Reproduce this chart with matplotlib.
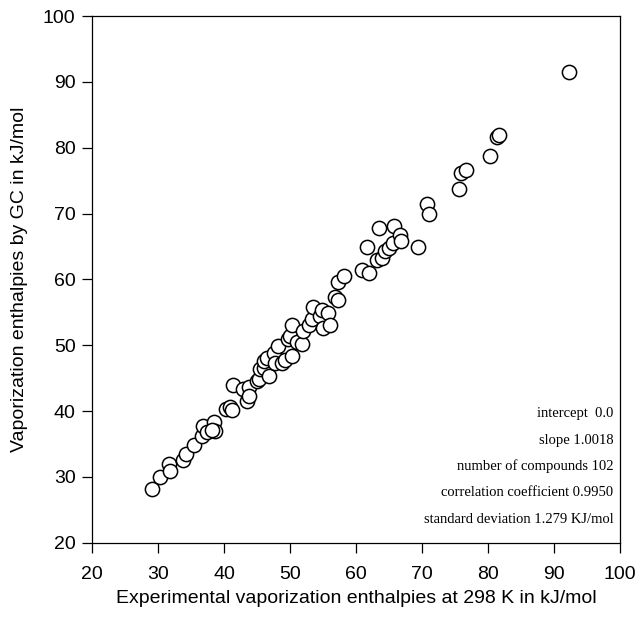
import numpy as np
import matplotlib
matplotlib.use("Agg")
from matplotlib import pyplot as plt

# experimental vs group-contribution vaporization enthalpies (kJ/mol)
exp_h = [29.0, 30.3, 31.7, 31.8, 33.8, 34.2, 35.4, 36.6, 36.8, 37.4,
         38.4, 38.6, 38.1, 40.3, 40.9, 41.2, 41.4, 42.8, 43.7, 43.4,
         43.7, 45.0, 45.3, 45.4, 46.1, 46.8, 46.0, 46.5, 47.5, 47.7,
         48.1, 48.7, 49.2, 49.7, 50.0, 50.3, 50.3, 51.0, 51.8, 52.0,
         52.8, 53.3, 53.5, 54.5, 54.8, 55.0, 55.8, 56.1, 56.8, 57.3,
         57.3, 58.2, 60.9, 61.9, 61.6, 63.1, 63.9, 63.5, 64.4, 64.9,
         65.6, 65.8, 66.7, 66.8, 69.3, 70.8, 71.0, 75.6, 75.9, 76.7,
         80.3, 81.4, 81.6, 92.3]
gc_h = [28.1, 30.0, 32.0, 30.9, 32.5, 33.5, 34.9, 36.2, 37.7, 36.9,
        38.4, 37.0, 37.2, 40.3, 40.6, 40.2, 43.9, 43.3, 43.6, 41.6,
        42.3, 44.5, 44.9, 46.4, 46.5, 45.3, 47.6, 48.1, 48.9, 47.3,
        49.9, 47.3, 47.8, 51.0, 51.4, 48.4, 53.1, 50.5, 50.2, 52.1,
        53.1, 54.0, 55.8, 54.4, 55.4, 52.7, 54.9, 53.1, 57.4, 56.9,
        59.6, 60.5, 61.4, 61.0, 64.9, 63.0, 63.2, 67.8, 64.3, 64.8,
        65.5, 68.1, 66.7, 65.8, 64.9, 71.4, 70.0, 73.8, 76.1, 76.7,
        78.8, 81.7, 81.9, 91.5]

ticks = np.arange(20, 101, 10)
stats = ["intercept  0.0",
         "slope 1.0018",
         "number of compounds 102",
         "correlation coefficient 0.9950",
         "standard deviation 1.279 KJ/mol"]

plt.rcParams['font.family'] = ['Liberation Sans', 'DejaVu Sans']

fig = plt.figure(figsize=(6.4, 6.21), dpi=100)
ax = fig.add_axes([0.144, 0.126, 0.825, 0.848])

ax.scatter(exp_h, gc_h, s=105, facecolors='white', edgecolors='black',
           linewidths=1.1, zorder=3)

ax.set_xlim(20, 100)
ax.set_ylim(20, 100)
ax.set_xticks(ticks)
ax.set_yticks(ticks)
ax.tick_params(direction='out', length=7, width=0.9, labelsize=14,
               top=False, right=False)
ax.tick_params(axis='x', pad=10)
ax.tick_params(axis='y', pad=5)
for sp in ax.spines.values():
    sp.set_linewidth(0.9)

ax.set_xlabel("Experimental vaporization enthalpies at 298 K in kJ/mol",
              fontsize=14, labelpad=5)
ax.set_ylabel("Vaporization enthalpies by GC in kJ/mol",
              fontsize=14, labelpad=11)

for i, line in enumerate(stats):
    ax.text(0.987, 0.245 - i * 0.05, line, transform=ax.transAxes,
            ha='right', va='center', fontsize=10.5, family='Liberation Serif')

fig.savefig("out.png", dpi=100)
